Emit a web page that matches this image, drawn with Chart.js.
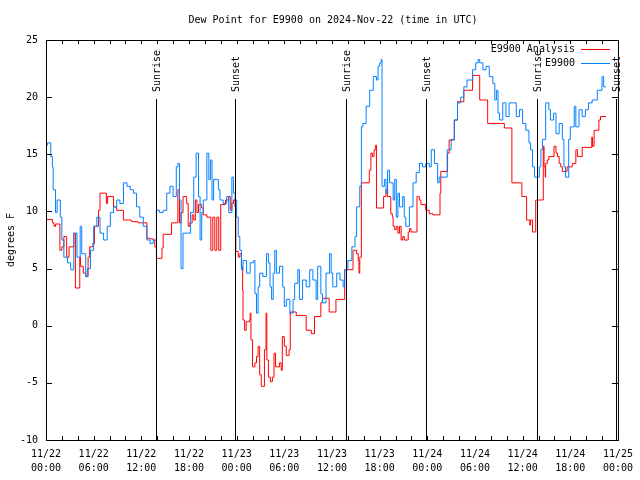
<!DOCTYPE html>
<html>
<head>
<meta charset="utf-8">
<script src="https://cdn.jsdelivr.net/npm/chart.js@4.4.1/dist/chart.umd.min.js"></script>
<style>
  html, body { margin: 0; padding: 0; background: #fff; }
  #wrap { width: 640px; height: 480px; }
</style>
</head>
<body>
<div id="wrap"><canvas id="dewChart" width="640" height="480"></canvas></div>
<script>
// hours since 11/22 00:00 UTC
const analysisHours = [
    0, 0.8, 1.0, 1.2, 1.75, 2.0, 2.25, 2.6, 2.9, 3.5,
    3.7, 4.25, 4.35, 4.7, 5.0, 5.3, 5.5, 5.9, 6.1, 6.6,
    6.8, 7.6, 7.75, 8.5, 8.9, 9.75, 10.7, 10.8, 11.6, 12.7,
    13.1, 13.5, 13.7, 13.9, 14.6, 14.75, 15.8, 16.6, 16.8, 17.0,
    17.25, 17.7, 17.9, 18.1, 18.4, 18.6, 18.8, 19.0, 19.2, 19.6,
    19.8, 20.25, 20.75, 21.0, 21.25, 21.5, 21.75, 22.0, 22.6, 23.0,
    23.2, 23.4, 23.6, 23.8, 23.9, 24.2, 24.4, 24.6, 24.75, 24.8,
    25.0, 25.2, 25.6, 25.7, 25.8, 26.0, 26.3, 26.5, 26.7, 26.9,
    27.1, 27.5, 27.7, 27.8, 28.0, 28.25, 28.5, 28.7, 28.9, 29.4,
    29.6, 29.75, 30.0, 30.25, 30.6, 30.75, 31.5, 32.75, 33.4, 33.8,
    34.6, 34.8, 35.65, 36.5, 37.6, 38.65, 39.1, 39.3, 39.4, 39.5,
    39.7, 40.7, 40.9, 41.1, 41.3, 41.5, 41.6, 42.5, 42.8, 43.0,
    43.4, 43.6, 43.7, 43.9, 44.1, 44.3, 44.5, 44.7, 44.9, 45.1,
    45.6, 45.75, 45.95, 46.7, 47.0, 47.2, 47.8, 48.25, 48.7, 49.6,
    49.7, 50.55, 50.75, 51.4, 51.8, 52.6, 53.7, 54.6, 55.6, 57.7,
    58.65, 59.9, 60.5, 60.9, 61.0, 61.25, 61.65, 62.6, 62.7, 62.85,
    62.9, 63.1, 63.3, 63.95, 64.2, 64.4, 64.6, 64.8, 65.0, 65.6,
    66.25, 66.7, 66.9, 67.5, 68.7, 68.8, 69.0, 69.6, 69.8, 70.5
];
const analysisValues = [
    9.3, 9.0, 8.7, 8.9, 6.6, 6.9, 7.8, 6.0, 6.9, 8.1,
    3.3, 6.0, 5.2, 4.6, 4.3, 6.0, 6.9, 7.2, 8.7, 10.1,
    11.6, 10.7, 11.3, 10.4, 10.1, 9.25, 9.2, 9.1, 9.0, 7.65,
    7.6, 7.5, 6.9, 5.9, 6.8, 8.0, 9.0, 11.9, 9.0, 9.9,
    11.3, 10.7, 8.7, 9.0, 9.7, 9.25, 11.0, 9.9, 10.6, 10.3,
    9.7, 9.5, 6.6, 9.5, 6.6, 9.5, 6.6, 10.6, 11.0, 11.3,
    10.1, 10.7, 11.0, 10.4, 6.5, 6.0, 6.3, 5.2, 3.1, 0.5,
    -0.4, 0.35, 0.5, 1.1, -1.25, -3.6, -3.25, -2.7, -1.8, -4.3,
    -5.3, -2.1, 1.1, -3.0, -4.5, -4.9, -4.5, -2.4, -3.6, -3.25,
    -3.9, -0.95, -1.8, -2.6, -2.1, 1.2, 0.9, -0.4, -0.7, 0.8,
    2.0, 2.4, 1.2, 2.3, 4.9, 6.6, 6.3, 5.7, 4.6, 6.0,
    12.5, 13.6, 15.1, 14.8, 15.4, 15.8, 10.3, 11.3, 11.9, 11.3,
    9.8, 9.5, 8.7, 8.4, 8.7, 8.1, 8.7, 7.5, 7.8, 7.5,
    8.2, 8.5, 8.2, 11.3, 11.0, 10.6, 10.1, 9.8, 9.7, 11.6,
    13.5, 15.1, 16.25, 18.0, 19.6, 20.6, 21.9, 19.75, 17.7, 17.3,
    12.5, 11.3, 9.25, 8.8, 9.25, 8.2, 11.0, 15.7, 13.9, 13.0,
    14.2, 14.5, 14.8, 15.7, 15.1, 14.8, 14.2, 13.9, 13.5, 13.9,
    14.2, 15.4, 14.8, 15.6, 16.5, 15.7, 17.1, 18.0, 18.3, 18.3
];

const stationHours = [
    0, 0.2, 0.6, 0.8, 0.9, 1.2, 1.4, 1.8, 2.0, 2.25,
    2.7, 3.1, 3.5, 3.9, 4.3, 4.5, 5.0, 5.2, 5.6, 6.0,
    6.4, 6.8, 7.25, 7.7, 8.1, 8.5, 8.9, 9.3, 9.75, 10.2,
    10.6, 11.0, 11.4, 11.8, 12.25, 12.7, 13.1, 13.5, 13.9, 14.3,
    14.75, 15.2, 15.6, 16.0, 16.4, 16.6, 16.8, 17.0, 17.25, 17.7,
    18.2, 18.6, 18.9, 19.2, 19.4, 19.6, 19.8, 20.25, 20.5, 20.7,
    20.9, 21.1, 21.5, 21.7, 21.9, 22.3, 22.75, 23.0, 23.4, 23.6,
    23.8, 24.0, 24.2, 24.4, 24.6, 24.8, 25.25, 25.7, 26.1, 26.3,
    26.5, 26.7, 26.9, 27.3, 27.75, 28.0, 28.2, 28.4, 28.6, 28.8,
    29.0, 29.4, 29.8, 30.0, 30.25, 30.7, 31.1, 31.3, 31.7, 31.9,
    32.3, 32.75, 33.2, 33.6, 34.0, 34.2, 34.6, 34.8, 35.25, 35.7,
    35.9, 36.1, 36.6, 37.0, 37.4, 37.6, 38.0, 38.5, 38.9, 39.1,
    39.5, 39.7, 39.9, 40.3, 40.75, 41.2, 41.6, 41.8, 42.0, 42.2,
    42.3, 42.6, 42.8, 43.0, 43.25, 43.7, 43.9, 44.1, 44.3, 44.5,
    44.9, 45.1, 45.3, 45.75, 46.2, 46.6, 47.0, 47.4, 47.8, 48.25,
    48.5, 48.9, 49.3, 49.5, 50.1, 50.5, 51.0, 51.4, 51.8, 52.2,
    52.6, 53.0, 53.7, 54.1, 54.4, 54.6, 55.0, 55.4, 55.8, 56.25,
    56.5, 56.7, 56.9, 57.1, 57.5, 57.9, 58.3, 58.75, 59.2, 59.6,
    60.0, 60.4, 60.8, 61.0, 61.25, 61.5, 61.9, 62.1, 62.3, 62.5,
    62.9, 63.3, 63.5, 63.9, 64.2, 64.6, 65.0, 65.2, 65.4, 65.8,
    66.0, 66.5, 66.7, 67.1, 67.5, 67.9, 68.3, 68.75, 69.2, 69.4,
    69.6, 70.0, 70.2, 70.5
];
const stationValues = [
    15.8, 16.0, 14.8, 13.9, 11.9, 9.9, 11.0, 9.5, 7.5, 6.0,
    5.5, 4.9, 8.1, 6.0, 8.7, 6.3, 4.3, 5.0, 6.6, 8.7,
    9.5, 8.1, 7.5, 8.7, 9.9, 10.4, 11.0, 10.7, 12.5, 12.2,
    11.9, 11.6, 10.4, 9.5, 8.7, 7.5, 7.2, 7.5, 10.1, 9.9,
    10.1, 11.6, 12.2, 11.3, 13.9, 14.2, 11.0, 5.0, 8.1, 8.1,
    9.9, 13.0, 15.1, 11.3, 7.5, 9.9, 11.0, 15.1, 12.8, 14.5,
    11.0, 12.8, 12.8, 11.9, 11.0, 10.7, 11.3, 9.9, 13.0, 11.6,
    11.0, 9.5, 7.8, 6.6, 4.9, 5.7, 4.6, 5.5, 5.7, 2.8,
    1.1, 3.4, 4.6, 4.3, 6.3, 5.5, 3.4, 2.3, 4.6, 6.6,
    4.6, 5.2, 3.4, 1.7, 2.3, 1.1, 2.3, 3.7, 4.9, 2.3,
    4.0, 3.4, 4.9, 4.0, 2.3, 5.2, 2.8, 2.0, 4.6, 6.3,
    4.6, 3.4, 4.6, 4.0, 3.4, 4.9, 5.7, 6.9, 7.8, 10.4,
    12.2, 17.4, 17.7, 19.2, 20.6, 21.8, 21.5, 22.7, 23.0, 23.3,
    12.2, 12.8, 11.6, 13.6, 12.5, 11.0, 12.8, 9.5, 11.6, 10.4,
    11.3, 9.5, 8.7, 10.4, 12.5, 13.4, 14.2, 13.9, 14.2, 13.9,
    15.4, 14.2, 12.5, 13.0, 13.0, 15.4, 16.3, 18.0, 19.5, 20.0,
    20.9, 21.5, 22.4, 23.0, 23.3, 23.0, 22.4, 22.7, 21.8, 21.2,
    19.75, 20.6, 18.6, 18.0, 19.5, 18.3, 19.5, 19.5, 18.3, 18.9,
    17.7, 17.1, 16.0, 15.4, 13.9, 13.0, 13.0, 13.9, 15.4, 16.3,
    19.5, 18.9, 18.0, 18.6, 16.8, 17.7, 16.3, 13.9, 13.0, 16.3,
    17.4, 19.2, 17.4, 18.9, 18.3, 18.9, 19.5, 19.75, 19.75, 20.6,
    20.6, 21.8, 20.9, 20.9
];

const sunHours = [13.9, 23.75, 37.75, 47.8, 61.8, 71.8];
const sunLabels = ['Sunrise', 'Sunset', 'Sunrise', 'Sunset', 'Sunrise', 'Sunset'];

const xTickLabels = [
    ['11/22', '00:00'], ['11/22', '06:00'], ['11/22', '12:00'], ['11/22', '18:00'],
    ['11/23', '00:00'], ['11/23', '06:00'], ['11/23', '12:00'], ['11/23', '18:00'],
    ['11/24', '00:00'], ['11/24', '06:00'], ['11/24', '12:00'], ['11/24', '18:00'],
    ['11/25', '00:00']
];
const seriesNames = ['E9900 Analysis', 'E9900'];
const seriesColors = ['#ff0000', '#0080ff'];

const FONT = '"DejaVu Sans Mono", "Liberation Mono", monospace';
Chart.defaults.font.family = FONT;
Chart.defaults.font.size = 10;
Chart.defaults.color = '#000';

const toPoints = (hrs, vals) => hrs.map((h, i) => ({ x: h, y: vals[i] }));

// frame, inward ticks, sunrise/sunset markers, legend, title
const gnuplotLook = {
    id: 'gnuplotLook',
    afterDatasetsDraw(chart) {
        const { ctx, chartArea: a, scales: { x, y } } = chart;
        ctx.save();
        ctx.strokeStyle = '#000';
        ctx.fillStyle = '#000';
        ctx.lineWidth = 1;
        ctx.font = '10px ' + FONT;

        // sunrise / sunset lines
        sunHours.forEach((h, i) => {
            const px = Math.round(x.getPixelForValue(h)) + 0.5;
            ctx.beginPath();
            ctx.moveTo(px, 99);
            ctx.lineTo(px, a.bottom);
            ctx.stroke();
            ctx.save();
            ctx.translate(px + 1, 92);
            ctx.rotate(-Math.PI / 2);
            ctx.textAlign = 'left';
            ctx.textBaseline = 'middle';
            ctx.fillText(sunLabels[i], 0, 0);
            ctx.restore();
        });

        // border
        ctx.strokeRect(a.left + 0.5, a.top + 0.5, a.right - a.left, a.bottom - a.top);

        // y ticks both sides
        for (let v = -10; v <= 25; v += 5) {
            const py = Math.round(y.getPixelForValue(v)) + 0.5;
            ctx.beginPath();
            ctx.moveTo(a.left, py); ctx.lineTo(a.left + 6, py);
            ctx.moveTo(a.right, py); ctx.lineTo(a.right - 6, py);
            ctx.stroke();
        }
        // x ticks top and bottom every 2 hours
        for (let h = 0; h <= 72; h += 2) {
            const px = Math.round(x.getPixelForValue(h)) + 0.5;
            ctx.beginPath();
            ctx.moveTo(px, a.bottom); ctx.lineTo(px, a.bottom - 4);
            ctx.moveTo(px, a.top); ctx.lineTo(px, a.top + 4);
            ctx.stroke();
        }

        // legend
        ctx.textAlign = 'right';
        ctx.textBaseline = 'middle';
        seriesNames.forEach((name, i) => {
            const ly = 49 + i * 14;
            ctx.fillStyle = '#000';
            ctx.fillText(name, 575, ly);
            ctx.fillStyle = seriesColors[i];
            ctx.fillRect(581, ly, 29, 1);
        });

        // title and y label
        ctx.fillStyle = '#000';
        ctx.textAlign = 'center';
        ctx.fillText('Dew Point for E9900 on 2024-Nov-22 (time in UTC)', 333, 20);
        ctx.translate(11, 240);
        ctx.rotate(-Math.PI / 2);
        ctx.fillText('degrees F', 0, 0);
        ctx.restore();
    }
};

const dewCtx = document.getElementById('dewChart').getContext('2d');
const dewChart = new Chart(dewCtx, {
    type: 'line',
    data: {
        datasets: [{
            label: seriesNames[1],
            data: toPoints(stationHours, stationValues),
            borderColor: seriesColors[1],
            borderWidth: 1,
            pointRadius: 0,
            stepped: true,
            fill: false
        }, {
            label: seriesNames[0],
            data: toPoints(analysisHours, analysisValues),
            borderColor: seriesColors[0],
            borderWidth: 1,
            pointRadius: 0,
            stepped: true,
            fill: false
        }]
    },
    options: {
        responsive: false,
        animation: false,
        layout: { padding: { top: 40, right: 18, left: 0, bottom: 0 } },
        plugins: {
            legend: { display: false },
            title: { display: false },
            tooltip: { enabled: false }
        },
        scales: {
            x: {
                type: 'linear',
                min: 0,
                max: 72,
                grid: { display: false, drawTicks: false },
                border: { display: false },
                afterFit: (scale) => { scale.height = 40; },
                ticks: {
                    stepSize: 6,
                    autoSkip: false,
                    maxRotation: 0,
                    padding: 7,
                    font: { size: 10, lineHeight: 1.4 },
                    callback: (value) => xTickLabels[Math.round(value / 6)]
                }
            },
            y: {
                min: -10,
                max: 25,
                grid: { display: false, drawTicks: false },
                border: { display: false },
                afterFit: (scale) => { scale.width = 46; },
                ticks: {
                    stepSize: 5,
                    padding: 8,
                    font: { size: 10 }
                }
            }
        }
    },
    plugins: [gnuplotLook]
});
</script>
</body>
</html>
